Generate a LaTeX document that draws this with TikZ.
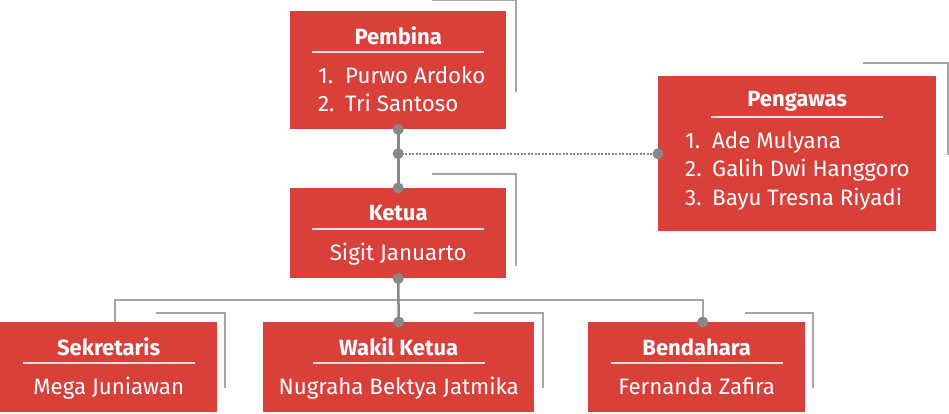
\documentclass[tikz,border=0pt]{standalone}
\usepackage{fontspec}
\setmainfont{Fira Sans}
\definecolor{boxred}{HTML}{D9403A}
\definecolor{linegray}{HTML}{A6A6A6}
\definecolor{dotgray}{HTML}{878787}

\tikzset{
    org box/.style={
        fill=boxred,inner sep=0pt,anchor=north west
    },
    box head/.style={text=white,font=\fontsize{22}{26}\selectfont\bfseries},
    box name/.style={text=white,font=\fontsize{22.3}{26}\selectfont,anchor=base,inner sep=0pt},
    head rule/.style={white!82!boxred,line width=1.2pt},
    deco line/.style={linegray,line width=1.5pt},
    conn line/.style={dotgray,line width=2.5pt},
    conn dot/.style={circle,fill=dotgray,inner sep=0pt,minimum size=11pt}
}

\begin{document}
\begin{tikzpicture}[x=1pt,y=-1pt]
        \useasboundingbox (0,0) rectangle (949,413);
        % corner marks behind the boxes
        \foreach \xa/\ya/\xb/\yb in {432/0/516/92,432/174/516/266,863/63/948/155,156/313/225/388,474/313/543/388,745/313/813/388}
            \draw[deco line] (\xa,\ya) -| (\xb,\yb);
        \foreach \name/\x/\y/\w/\h in {pembina/290/11/216/118,ketua/290/188/216/90,pengawas/658/76/278/155,sekretaris/0/322/217/90,wakil/263/322/271/90,bendahara/588/322/217/90}
            \node[org box,minimum width=\w pt,minimum height=\h pt] (\name) at (\x,\y) {};
        \foreach \name/\head in {pembina/Pembina,ketua/Ketua,pengawas/Pengawas,sekretaris/Sekretaris,wakil/Wakil Ketua,bendahara/Bendahara}
        {
            \node[box head] (\name-head) at ([yshift=-25pt]\name.north) {\head};
            \draw[head rule] ([xshift=-86pt,yshift=-41pt]\name.north) -- ([xshift=86pt,yshift=-41pt]\name.north);
        }
        \foreach \name/\who in {ketua/Sigit Januarto,sekretaris/Mega Juniawan,wakil/Nugraha Bektya Jatmika,bendahara/Fernanda Zafira}
            \node[box name] (\name-who) at ([yshift=-72pt]\name.north) {\who};
        \foreach \i/\who in {1/Purwo Ardoko,2/Tri Santoso}
            \node[box name,anchor=base west] (pembina-\i) at ([xshift=28pt,yshift={-72pt-28.5pt*(\i-1)}]pembina.north west) {\makebox[27pt][l]{\i.}\who};
        \foreach \i/\who in {1/Ade Mulyana,2/Galih Dwi Hanggoro,3/Bayu Tresna Riyadi}
            \node[box name,anchor=base west] (pengawas-\i) at ([xshift=27pt,yshift={-72pt-28.8pt*(\i-1)}]pengawas.north west) {\makebox[27pt][l]{\i.}\who};
        % connectors
        \coordinate (junction) at (pembina.south |- pengawas.west);
        \coordinate (branch) at ([yshift=-22pt]ketua.south);
        \draw[conn line,line width=3pt] (pembina.south) -- (ketua.north);
        \draw[dotgray,line width=2pt,dash pattern=on 2pt off 1.5pt] (junction) -- (pengawas.west);
        \draw[linegray,line width=2pt] ([xshift=6pt]sekretaris.north) |- (branch) -| ([xshift=6pt]bendahara.north);
        \draw[conn line] (ketua.south) -- (wakil.north);
        \foreach \p in {pembina.south,junction,ketua.north,ketua.south,pengawas.west,wakil.north}
            \node[conn dot] at (\p) {};
        \node[conn dot] at ([xshift=6pt]bendahara.north) {};
    \end{tikzpicture}
\end{document}
